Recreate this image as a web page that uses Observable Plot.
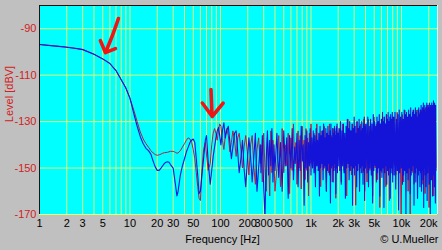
<!DOCTYPE html>
<html><head><meta charset="utf-8">
<script src="https://cdn.jsdelivr.net/npm/d3@7"></script>
<script src="https://cdn.jsdelivr.net/npm/@observablehq/plot@0.6"></script>
<style>
html,body{margin:0;padding:0;background:#c0c0c0;}
#chart{width:442px;height:250px;}
</style></head><body><div id="chart"></div>
<script>
// Frequency grid (Hz), low part shared by both traces
const freqLow = [1,1.5,2,2.5,3,4,5,6,7,8,9,10,
  11,12,13,14,15,16,17,18,19,20,
  21,22,23,24,25,26,27,28,30,32,
  33,34,36,38,40,42,44,46,48,50,
  52,54,56,58,60,62,65,68,70,73,
  77,80,83,86,89,92,95,98,101,105,
  109,113,117,122,127,132,137,143,149,155,
  161,168,175,182,190,198,206,215,224,233,
  243,253,264,275];
const freqMid = [280,290,300,310,320,330,340,350,360,370,380,390,400,
  420,440,460,480,500,520,540,560,580,600,620,640,660,680,700,720,740,760,780,800,820,840,860,880,900,920,940,960,980,1000];
// Blue trace high band grid
const freqBlueHigh = [1020,1040,1060,1080,1100,1120,1140,1160,1180,1200,1220,1240,1260,1280,1300,1320,1340,1360,1380,1400,1420,1440,1460,1480,1500,1520,1540,1560,1580,1600,1620,1640,1660,1680,1700,1720,1740,1760,1780,1800,1820,1840,1860,1880,1900,1920,1940,1960,1980,2000,
  2040,2080,2120,2160,2200,2240,2280,2320,2360,2400,2440,2480,2520,2560,2600,2640,2680,2720,2760,2800,2840,2880,2920,2960,3000,3040,3080,3120,3160,3200,3240,3280,3320,3360,3400,3440,3480,3520,3560,3600,3640,3680,3720,3760,3800,3840,3880,3920,3960,4000,
  4080,4160,4240,4320,4400,4480,4560,4640,4720,4800,4880,4960,5040,5120,5200,5280,5360,5440,5520,5600,5680,5760,5840,5920,6000,6080,6160,6240,6320,6400,6480,6560,6640,6720,6800,6880,6960,7040,7120,7200,7280,7360,7440,7520,7600,7680,7760,7840,7920,8000,
  8160,8320,8480,8640,8800,8960,9120,9280,9440,9600,9760,9920,10080,10240,10400,10560,10720,10880,11040,11200,11360,11520,11680,11840,12000,12160,12320,12480,12640,12800,12960,13120,13280,13440,13600,13760,13920,14080,14240,14400,14560,14720,14880,15040,15200,15360,15520,15680,15840,16000,
  16160,16320,16480,16640,16800,16960,17120,17280,17440,17600,17760,17920,18080,18240,18400,18560,18720,18880,19040,19200,19360,19520,19680,19840,20000,20160,20320,20480,20640,20800,20960,21120,21280,21440,21600,21760,21920,22080,22240,22400,22560,22720,22880,23040,23200,23360,23520,23680,23840,24000];
// Red trace high band grid
const freqRedHigh = [1040,1080,1120,1160,1200,1240,1280,1320,1360,1400,1440,1480,1520,1560,1600,1640,1680,1720,1760,1800,1840,1880,1920,1960,2000,
  2080,2160,2240,2320,2400,2480,2560,2640,2720,2800,2880,2960,3040,3120,3200,3280,3360,3440,3520,3600,3680,3760,3840,3920,4000,
  4160,4320,4480,4640,4800,4960,5120,5280,5440,5600,5760,5920,6080,6240,6400,6560,6720,6880,7040,7200,7360,7520,7680,7840,8000,
  8320,8640,8960,9280,9600,9920,10240,10560,10880,11200,11520,11840,12160,12480,12800,13120,13440,13760,14080,14400,14720,15040,15360,15680,16000,
  16320,16640,16960,17280,17600,17920,18240,18560,18880,19200,19520,19840,20160,20480,20800,21120,21440,21760,22080,22400,22720,23040,23360,23680,24000];

// Blue trace (dBV)
const blueLow = [-96.8,-97.5,-98,-98.5,-99,-101,-103,-105,-108,-112,-115.5,-120,
  -126.5,-132,-136.5,-139.5,-141.5,-142.5,-144,-147,-149.5,-151,
  -151,-150,-149,-148,-147.5,-147.3,-147.5,-148.5,-150,-158,
  -162,-160,-153,-149,-146,-143,-141,-139,-138,-137.5,
  -139,-146,-153,-161,-160,-154,-146,-138,-136,-147,
  -157,-151,-145,-141,-137,-134,-132.5,-136,-140,-134,
  -130.5,-137,-134,-132,-139,-146,-141,-135,-134,-143,
  -152,-146,-138,-150,-158,-147,-137,-145,-156,-146,
  -135,-160,-150,-140];
const blueMid = [-152,-136,-158,-171,-147,-134,-153,-138,-149,-133,-156,-140,-151,
  -135,-154,-139,-160,-134,-149,-137,-163,-136,-150,-133,-155,-141,-148,-135,-158,-138,-151,-132,-147,-140,-166,-136,-150,-134,-156,-139,-149,-133,-153];
const blueHigh = [-137,-150,-134,-152,-136,-158,-133,-149,-138,-151,-135,-162,-132,-150,-136,-148,-134,-155,-131,-150,
  -137,-149,-133,-160,-135,-151,-132,-148,-136,-153,-134,-165,-131,-150,-137,-149,-133,-156,-135,-151,
  -132,-148,-136,-161,-133,-150,-131,-152,-135,-149,
  -133,-151,-130,-157,-134,-149,-131,-152,-135,-163,-132,-150,-129,-148,-133,-155,-130,-151,-134,-149,
  -131,-166,-133,-150,-128,-153,-132,-149,-135,-158,-130,-151,-133,-148,-129,-160,-132,-150,-134,-152,
  -130,-149,-133,-157,-131,-151,-128,-164,-132,-150,
  -131,-152,-128,-158,-132,-150,-129,-153,-131,-165,-127,-151,-130,-149,-132,-156,-128,-152,-130,-150,
  -127,-162,-131,-151,-129,-154,-126,-150,-130,-167,-128,-152,-131,-149,-127,-157,-129,-151,-126,-153,
  -130,-150,-128,-163,-127,-152,-129,-150,-126,-156,
  -128,-153,-126,-159,-129,-151,-127,-168,-125,-152,-128,-150,-126,-157,-129,-153,-125,-151,-127,-171,
  -126,-152,-128,-155,-125,-150,-127,-161,-124,-153,-128,-151,-126,-149,-125,-166,-127,-152,-124,-156,
  -126,-150,-128,-163,-125,-153,-124,-151,-127,-158,
  -125,-152,-123,-160,-126,-151,-124,-155,-122,-167,-125,-150,-123,-153,-126,-158,-124,-151,-122,-164,
  -125,-152,-123,-149,-124,-157,-122,-153,-125,-170,-123,-151,-124,-155,-122,-150,-125,-162,-123,-153,
  -121,-151,-124,-158,-122,-152,-124,-165,-123,-151];

// Red trace (dBV)
const redLow = [-96.8,-97.4,-97.9,-98.4,-98.9,-101,-103,-105,-108,-112,-115.5,-120,
  -125,-130,-134.5,-137.5,-139.5,-141,-142.5,-143.5,-144.2,-144.5,
  -144.3,-144,-143.6,-143.4,-143.3,-143.2,-143,-142.8,-142.8,-143.3,
  -143.6,-143.5,-142.5,-141,-139.5,-138,-137,-137.5,-139,-142,
  -146,-152,-158,-163,-164,-152,-142,-139,-144,-151,
  -148,-140,-135,-133,-135,-138,-134,-131,-132,-138,
  -142,-136,-133,-136,-143,-139,-134,-138,-145,-137,
  -135,-142,-150,-141,-136,-143,-153,-140,-136,-149,
  -157,-142,-137,-148];
const redMid = [-140,-156,-135,-150,-160,-137,-145,-162,-134,-152,-138,-147,-160,
  -150,-136,-158,-133,-152,-140,-149,-135,-161,-137,-151,-131,-148,-139,-157,-134,-150,-136,-159,-132,-146,-138,-155,-133,-151,-137,-162,-135,-148,-131];
const redHigh = [-150,-135,-153,-131,-149,-137,-158,-134,-151,-132,-147,-160,-135,-152,-131,-149,-136,-156,-133,-150,-134,-163,-132,-148,-136,
  -133,-156,-131,-151,-137,-162,-129,-150,-134,-153,-131,-148,-136,-166,-130,-151,-133,-157,-131,-149,-135,-152,-129,-160,-131,
  -156,-129,-151,-134,-162,-128,-150,-131,-155,-130,-167,-132,-152,-128,-149,-133,-158,-127,-151,-130,-164,-129,-150,-133,-153,
  -128,-153,-126,-150,-130,-172,-127,-156,-125,-151,-129,-160,-127,-171,-128,-152,-125,-157,-127,-150,-125,-163,-129,-151,-126,
  -152,-125,-157,-124,-150,-127,-161,-124,-153,-123,-149,-126,-167,-124,-151,-127,-155,-123,-150,-125,-162,-123,-153,-126,-150];

// Axes
const xTicks = [1,2,3,5,10,20,30,50,100,200,300,500,1000,2000,3000,5000,10000,20000];
const xTickLabels = ["1","2","3","5","10","20","30","50","100","200","300","500","1k","2k","3k","5k","10k","20k"];
const yTicks = [-170,-150,-130,-110,-90];
const yTickLabels = ["-170","-150","-130","-110","-90"];
const gridFreqs = [1,2,3,4,5,6,7,8,9,10,20,30,40,50,60,70,80,90,100,200,300,400,500,600,700,800,900,
  1000,2000,3000,4000,5000,6000,7000,8000,9000,10000,20000];

// Hand-drawn annotation arrows (Hz, dBV)
const arrow1Shaft = [[7.45,-85.6],[6.4,-92.9],[5.45,-99.6]];
const arrow1Head = [[4.71,-95.1],[5.35,-100.3],[6.9,-98.6]];
const arrow2Shaft = [[78.5,-116.2],[80.5,-127]];
const arrow2Head = [[63,-122],[81,-127.8],[107,-122]];

const blueF = freqLow.concat(freqMid, freqBlueHigh);
const blueV = blueLow.concat(blueMid, blueHigh);
const redF = freqLow.concat(freqMid, freqRedHigh);
const redV = redLow.concat(redMid, redHigh);
const blueData = blueF.map((f, i) => ({f, v: blueV[i]}));
const redData = redF.map((f, i) => ({f, v: redV[i]}));
const xTickData = xTicks.map((f, i) => ({f, label: xTickLabels[i]}));

const arrowStyle = {x: d => d[0], y: d => d[1], stroke: "#f01414", strokeWidth: 3.6, strokeLinecap: "round", strokeLinejoin: "round"};

const chart = Plot.plot({
  width: 442, height: 250,
  marginLeft: 39, marginRight: 5, marginTop: 5, marginBottom: 36,
  style: {fontFamily: "'Liberation Sans', Arial, sans-serif", fontSize: "11px", background: "#c0c0c0", overflow: "visible"},
  x: {type: "log", domain: [1, 25000], axis: null},
  y: {domain: [-170, -80], axis: null},
  marks: [
    Plot.frame({fill: "#00ffff", stroke: null}),
    Plot.ruleX(gridFreqs, {stroke: "#dcff74"}),
    Plot.ruleY(yTicks, {stroke: "#dcff74"}),
    Plot.line(redData, {x: "f", y: "v", stroke: "#b41e46", strokeWidth: 1, clip: true}),
    Plot.line(blueData, {x: "f", y: "v", stroke: "#1414d8", strokeWidth: 1.1, clip: true}),
    Plot.line(arrow1Shaft, {...arrowStyle, curve: "catmull-rom"}),
    Plot.line(arrow1Head, arrowStyle),
    Plot.line(arrow2Shaft, arrowStyle),
    Plot.line(arrow2Head, arrowStyle),
    Plot.ruleX([1], {stroke: "#101010"}),
    Plot.ruleY([-80], {stroke: "#101010"}),
    Plot.ruleX([25000], {stroke: "#f4f4f4"}),
    Plot.text(xTickData, {x: "f", text: "label", frameAnchor: "bottom", dy: 12}),
    Plot.text(yTicks, {y: d => d, text: (d, i) => yTickLabels[i], frameAnchor: "left", textAnchor: "end", dx: -3, fill: "#d42020"}),
    Plot.text(["Level [dBV]"], {frameAnchor: "left", textAnchor: "middle", dx: -30, dy: -16, rotate: -90, fill: "#d42020"}),
    Plot.text(["Frequency [Hz]"], {frameAnchor: "bottom", dx: -16, dy: 28}),
    Plot.text(["© U.Mueller"], {frameAnchor: "bottom-right", textAnchor: "end", dx: 1, dy: 28})
  ]
});
document.getElementById("chart").appendChild(chart);
</script></body></html>
